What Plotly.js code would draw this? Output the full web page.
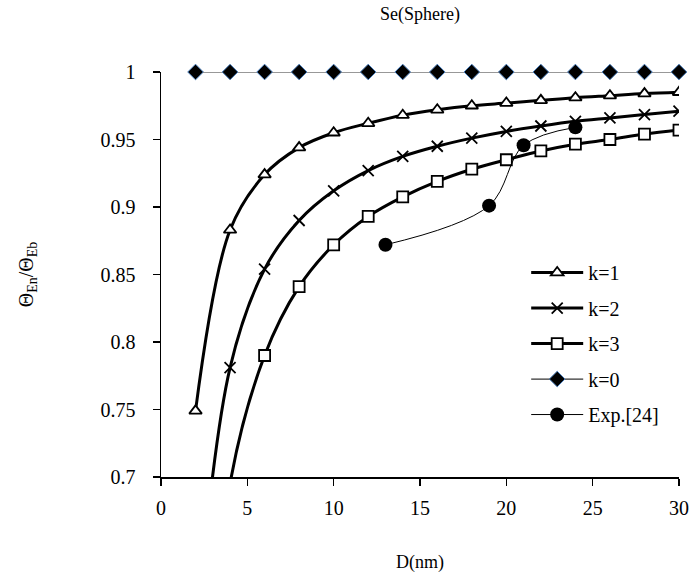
<!DOCTYPE html>
<html>
<head>
<meta charset="utf-8">
<script src="https://cdn.plot.ly/plotly-3.0.1.min.js"></script>
<style>html,body{margin:0;padding:0;background:#fff;}#chart{width:693px;height:573px;}</style>
</head>
<body>
<div id="chart"></div>
<script>
// Data
var xCalc = [2, 4, 6, 8, 10, 12, 14, 16, 18, 20, 22, 24, 26, 28, 30];
var yK1 = [0.749, 0.883, 0.924, 0.944, 0.955, 0.962, 0.968, 0.972, 0.975, 0.977, 0.979, 0.981, 0.9825, 0.984, 0.985];
var yK2 = [0.58, 0.781, 0.854, 0.890, 0.912, 0.927, 0.9375, 0.945, 0.951, 0.956, 0.960, 0.9635, 0.966, 0.9685, 0.971];
var yK3 = [0.40, 0.695, 0.790, 0.841, 0.872, 0.893, 0.9075, 0.919, 0.928, 0.935, 0.9415, 0.9465, 0.950, 0.954, 0.957];
var yK0 = [1, 1, 1, 1, 1, 1, 1, 1, 1, 1, 1, 1, 1, 1, 1];
var xExp = [13, 19, 21, 24];
var yExp = [0.872, 0.901, 0.9457, 0.959];
var seriesNames = ['k=1', 'k=2', 'k=3', 'k=0', 'Exp.[24]'];
var xTicks = [0, 5, 10, 15, 20, 25, 30];
var yTicks = [0.7, 0.75, 0.8, 0.85, 0.9, 0.95, 1];
var yTickText = ['0.7', '0.75', '0.8', '0.85', '0.9', '0.95', '1'];

var serif = "'Liberation Serif', 'Times New Roman', serif";

var traces = [
  {x: xCalc, y: yK1, name: seriesNames[0], legendgroup: 'a', mode: 'lines+markers',
   line: {color: '#000', width: 3, shape: 'spline'},
   marker: {symbol: 'triangle-up', size: 11, color: '#fff', line: {color: '#000', width: 1.8}}},
  {x: xCalc, y: yK2, name: seriesNames[1], legendgroup: 'b', mode: 'lines+markers',
   line: {color: '#000', width: 3, shape: 'spline'},
   marker: {symbol: 'x-thin-open', size: 11, color: '#000', line: {color: '#000', width: 1.8}}},
  {x: xCalc, y: yK3, name: seriesNames[2], legendgroup: 'c', mode: 'lines+markers',
   line: {color: '#000', width: 3, shape: 'spline'},
   marker: {symbol: 'square', size: 11, color: '#fff', line: {color: '#000', width: 1.8}}},
  {x: xCalc, y: yK0, name: seriesNames[3], legendgroup: 'd', mode: 'lines+markers', cliponaxis: false,
   line: {color: '#333', width: 1.2},
   marker: {symbol: 'diamond', size: 12, color: '#000', line: {color: '#4a7ebb', width: 1}}},
  {x: xExp, y: yExp, name: seriesNames[4], legendgroup: 'e', mode: 'lines+markers',
   line: {color: '#000', width: 1, shape: 'spline'},
   marker: {symbol: 'circle', size: 14, color: '#000', line: {color: '#000', width: 0}}}
];

var layout = {
  width: 693, height: 573,
  margin: {l: 161, r: 14, t: 72, b: 96, pad: 0},
  paper_bgcolor: '#fff', plot_bgcolor: '#fff',
  font: {family: serif, color: '#000', size: 20},
  title: {text: 'Se(Sphere)', font: {family: serif, size: 18, color: '#000'}, x: 0.5 * (161 + 679) / 693, xanchor: 'center', y: 1 - 14 / 573, yanchor: 'middle'},
  showlegend: true,
  legend: {x: 0.705, y: 0.553, xanchor: 'left', yanchor: 'top', bgcolor: 'rgba(0,0,0,0)', borderwidth: 0,
           font: {family: serif, size: 20, color: '#000'}, itemwidth: 52, tracegroupgap: 6.5, traceorder: 'grouped'},
  xaxis: {range: [0, 30], tickvals: xTicks, ticktext: xTicks.map(String), showgrid: false, zeroline: false,
          showline: true, linecolor: '#000', linewidth: 1.5, ticks: 'outside', ticklen: 7, tickcolor: '#000', tickwidth: 1.5,
          tickfont: {family: serif, size: 20, color: '#000'}, ticklabelstandoff: 5,
          title: {text: 'D(nm)', font: {family: serif, size: 18, color: '#000'}, standoff: 46}},
  yaxis: {range: [0.7, 1], tickvals: yTicks, ticktext: yTickText, showgrid: false, zeroline: false,
          showline: true, linecolor: '#000', linewidth: 1.5, ticks: 'outside', ticklen: 7, tickcolor: '#000', tickwidth: 1.5,
          tickfont: {family: serif, size: 20, color: '#000'}, ticklabelstandoff: 13,
          title: {text: 'Θ<sub>En</sub>/Θ<sub>Eb</sub>', font: {family: serif, size: 20, color: '#000'}, standoff: 61}}
};

Plotly.newPlot('chart', traces, layout, {displayModeBar: false, staticPlot: true});
</script>
</body>
</html>
